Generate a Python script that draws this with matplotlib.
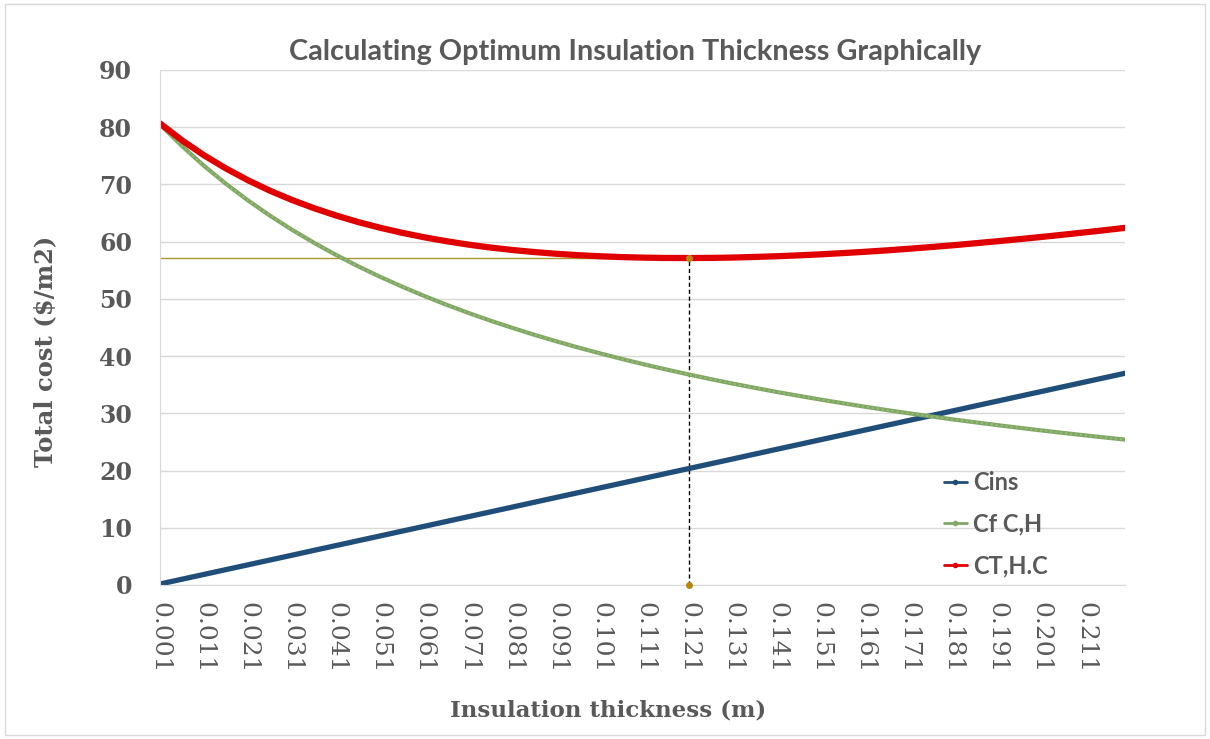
import numpy as np
import matplotlib.pyplot as plt
from matplotlib.patches import Rectangle

# insulation thickness (m), values every 0.005 m
thickness = [0.001, 0.006, 0.011, 0.016, 0.021, 0.026, 0.031, 0.036, 0.041, 0.046,
             0.051, 0.056, 0.061, 0.066, 0.071, 0.076, 0.081, 0.086, 0.091, 0.096,
             0.101, 0.106, 0.111, 0.116, 0.121, 0.126, 0.131, 0.136, 0.141, 0.146,
             0.151, 0.156, 0.161, 0.166, 0.171, 0.176, 0.181, 0.186, 0.191, 0.196,
             0.201, 0.206, 0.211, 0.216, 0.220]

cins = [0.17, 1.01, 1.85, 2.69, 3.53, 4.37, 5.21, 6.06, 6.90, 7.74,
        8.58, 9.42, 10.26, 11.10, 11.94, 12.78, 13.62, 14.47, 15.31, 16.15,
        16.99, 17.83, 18.67, 19.51, 20.35, 21.19, 22.03, 22.88, 23.72, 24.56,
        25.40, 26.24, 27.08, 27.92, 28.76, 29.60, 30.44, 31.29, 32.13, 32.97,
        33.81, 34.65, 35.49, 36.33, 37.00]

cf = [80.50, 76.70, 73.24, 70.09, 67.19, 64.52, 62.06, 59.78, 57.66, 55.68,
      53.84, 52.12, 50.50, 48.98, 47.54, 46.19, 44.92, 43.71, 42.57, 41.48,
      40.45, 39.47, 38.53, 37.64, 36.79, 35.97, 35.19, 34.45, 33.73, 33.05,
      32.39, 31.76, 31.15, 30.56, 30.00, 29.46, 28.93, 28.43, 27.94, 27.47,
      27.01, 26.57, 26.14, 25.73, 25.41]

ct = [80.67, 77.71, 75.09, 72.78, 70.72, 68.89, 67.27, 65.84, 64.56, 63.42,
      62.42, 61.54, 60.76, 60.08, 59.48, 58.97, 58.54, 58.18, 57.88, 57.63,
      57.44, 57.30, 57.20, 57.15, 57.14, 57.16, 57.22, 57.33, 57.45, 57.61,
      57.79, 58.00, 58.23, 58.48, 58.76, 59.06, 59.37, 59.72, 60.07, 60.44,
      60.82, 61.22, 61.63, 62.06, 62.41]

x_opt = 0.121
c_opt = 57.14

tick_pos = [0.001 + 0.01 * i for i in range(22)]
tick_lab = ["%.3f" % t for t in tick_pos]

GRAY = "#595959"

fig = plt.figure(figsize=(12.1, 7.39), dpi=100)
fig.patches.append(Rectangle((0.004, 0.006), 0.992, 0.988, transform=fig.transFigure,
                             fill=False, edgecolor="#d9d9d9", linewidth=1))
ax = fig.add_axes([0.1322, 0.2084, 0.7976, 0.6969])

ax.set_xlim(0.001, 0.220)
ax.set_ylim(0, 90)
ax.set_yticks(range(0, 91, 10))
ax.grid(axis="y", color="#d9d9d9", linewidth=1)
ax.set_axisbelow(True)
for s in ["top", "right"]:
    ax.spines[s].set_visible(False)
for s in ["left", "bottom"]:
    ax.spines[s].set_color("#d9d9d9")

# optimum markers
ax.plot([0.001, x_opt], [c_opt, c_opt], color="#a89a2c", linewidth=1)
ax.plot([x_opt, x_opt], [0, c_opt], color="black", linewidth=1, linestyle=(0, (3, 2)))
ax.plot([x_opt, x_opt], [0, c_opt], "o", color="#b8860b", markersize=4, clip_on=False, zorder=5)

ax.plot(thickness, cins, color="#1f4e79", linewidth=3.8, solid_capstyle="round", label="Cins")
ax.plot(thickness, cf, color="#80a862", linewidth=3, solid_capstyle="round", label="Cf C,H")
ax.plot(thickness, cf, color="#9dbf85", linewidth=1.2, linestyle=(0, (1, 2)))
ax.plot(thickness, ct, color="#e00000", linewidth=4.5, solid_capstyle="round", label="CT,H.C")

ax.set_xticks(tick_pos)
ax.set_xticklabels(tick_lab, rotation=270, fontsize=18, family="DejaVu Serif", color=GRAY)
ax.tick_params(axis="x", length=0, pad=12)
ax.tick_params(axis="y", length=0, pad=20)
for t in ax.get_yticklabels():
    t.set_fontsize(17)
    t.set_family("DejaVu Serif")
    t.set_fontweight("bold")
    t.set_color(GRAY)

ax.text(0.464, -0.243, "Insulation thickness (m)", transform=ax.transAxes, ha="center", va="center",
        fontsize=16.5, family="DejaVu Serif", fontweight="bold", color=GRAY)
ax.text(-0.119, 0.454, "Total cost ($/m2)", transform=ax.transAxes, ha="center", va="center",
        rotation=90, fontsize=17.5, family="DejaVu Serif", fontweight="bold", color=GRAY)
fig.text(0.525, 0.93, "Calculating Optimum Insulation Thickness Graphically",
         ha="center", va="center", fontsize=20.8, family="Lato", fontweight="bold", color=GRAY)

leg = ax.legend(loc="lower left", bbox_to_anchor=(0.79, -0.027), frameon=False,
                handlelength=1.0, labelspacing=0.8, handletextpad=0.25,
                prop={"family": "Lato", "weight": "bold", "size": 17})
for h in leg.get_lines():
    h.set_linewidth(2)
    h.set_marker("o")
    h.set_markersize(3)
    h.set_markevery([1])
for t in leg.get_texts():
    t.set_color(GRAY)

fig.savefig("out.png", dpi=100)
